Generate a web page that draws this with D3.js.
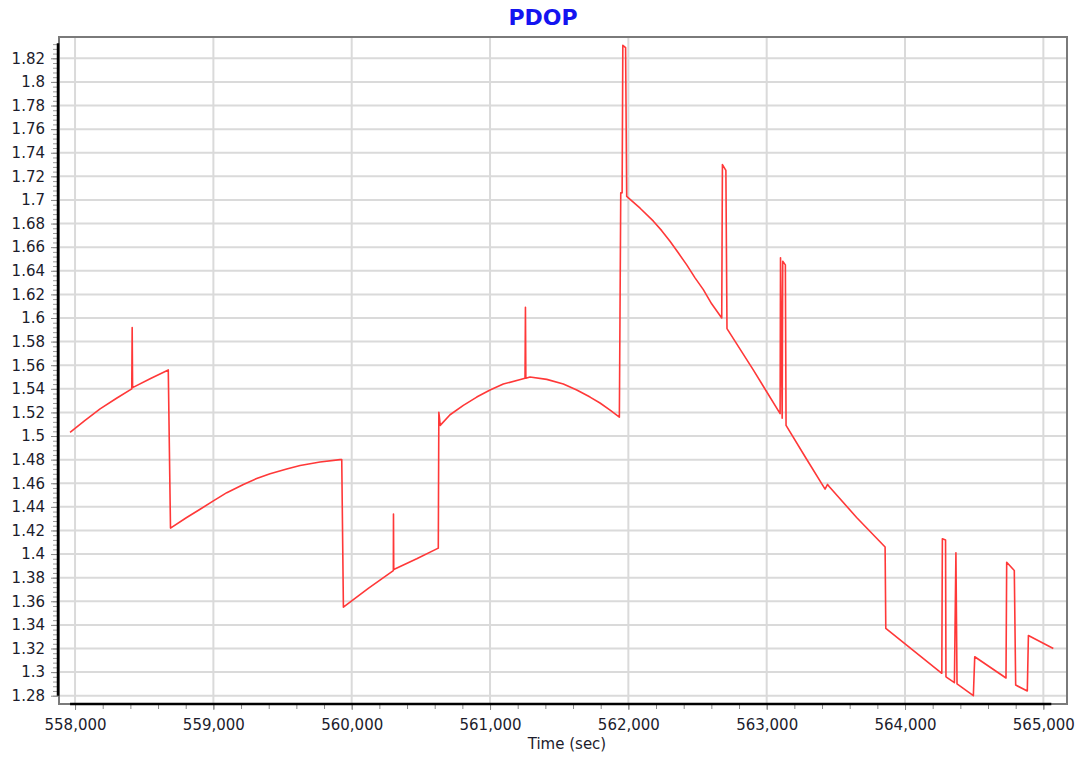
<!DOCTYPE html>
<html>
<head>
<meta charset="utf-8">
<script src="https://cdn.jsdelivr.net/npm/d3@7/dist/d3.min.js"></script>
<style>
  html, body { margin: 0; padding: 0; background: #ffffff; }
  svg { display: block; font-family: "DejaVu Sans", Verdana, sans-serif; }
</style>
</head>
<body>
<svg id="chart" width="1085" height="759"></svg>
<script>
// ---- data ----
const timeSec = [
  557964, 558070, 558181, 558300, 558410, 558413, 558416, 558550, 558674, 558690,
  558807, 558904, 559000, 559097, 559217, 559313, 559410, 559530, 559627, 559771,
  559916, 559928, 559940, 560120, 560301, 560302, 560304, 560470, 560626, 560630,
  560640, 560711, 560807, 560904, 561000, 561096, 561253, 561256, 561259, 561289,
  561410, 561530, 561627, 561723, 561795, 561868, 561935, 561945, 561955, 561960,
  561980, 561988, 562085, 562181, 562241, 562301, 562362, 562422, 562482, 562542,
  562602, 562675, 562680, 562705, 562713, 562903, 563097, 563100, 563112, 563116,
  563135, 563140, 563280, 563422, 563440, 563453, 563650, 563856, 563861, 564266,
  564270, 564293, 564296, 564357, 564368, 564376, 564494, 564504, 564730, 564735,
  564790, 564800, 564884, 564892, 565072
];
const pdop = [
  1.503, 1.513, 1.523, 1.532, 1.540, 1.592, 1.541, 1.549, 1.556, 1.422,
  1.431, 1.438, 1.445, 1.452, 1.459, 1.464, 1.468, 1.472, 1.475, 1.478,
  1.480, 1.480, 1.355, 1.371, 1.386, 1.434, 1.387, 1.396, 1.405, 1.520,
  1.509, 1.518, 1.526, 1.533, 1.539, 1.544, 1.549, 1.609, 1.549, 1.550,
  1.548, 1.544, 1.539, 1.533, 1.528, 1.522, 1.516, 1.706, 1.706, 1.831,
  1.829, 1.703, 1.693, 1.682, 1.674, 1.665, 1.655, 1.645, 1.634, 1.624,
  1.612, 1.600, 1.730, 1.725, 1.591, 1.556, 1.519, 1.651, 1.515, 1.648,
  1.645, 1.509, 1.482, 1.455, 1.459, 1.457, 1.431, 1.406, 1.337, 1.299,
  1.413, 1.412, 1.296, 1.291, 1.401, 1.290, 1.280, 1.313, 1.295, 1.393,
  1.386, 1.289, 1.284, 1.331, 1.320
];
const xTickValues = [558000, 559000, 560000, 561000, 562000, 563000, 564000, 565000];
const xTickLabels = ["558,000", "559,000", "560,000", "561,000", "562,000", "563,000", "564,000", "565,000"];
const yTickValues = [1.28, 1.3, 1.32, 1.34, 1.36, 1.38, 1.4, 1.42, 1.44, 1.46, 1.48, 1.5, 1.52, 1.54,
  1.56, 1.58, 1.6, 1.62, 1.64, 1.66, 1.68, 1.7, 1.72, 1.74, 1.76, 1.78, 1.8, 1.82];
const yTickLabels = ["1.28", "1.3", "1.32", "1.34", "1.36", "1.38", "1.4", "1.42", "1.44", "1.46", "1.48", "1.5", "1.52", "1.54",
  "1.56", "1.58", "1.6", "1.62", "1.64", "1.66", "1.68", "1.7", "1.72", "1.74", "1.76", "1.78", "1.8", "1.82"];
const chartTitle = "PDOP";
const xAxisTitle = "Time (sec)";

// ---- layout ----
const svg = d3.select("#chart");
const plot = { left: 59, top: 37, right: 1067, bottom: 704 };

const x = d3.scaleLinear().domain([557884, 565171]).range([plot.left, plot.right]);
const y = d3.scaleLinear().domain([1.27297, 1.83805]).range([plot.bottom, plot.top]);

// title
svg.append("text")
  .attr("x", 543).attr("y", 25)
  .attr("text-anchor", "middle")
  .style("font-weight", "bold").style("font-size", "22px")
  .attr("fill", "#1414f0")
  .text(chartTitle);

// gridlines
const grid = svg.append("g");
grid.selectAll("line.h").data(yTickValues).join("line")
  .attr("x1", plot.left).attr("x2", plot.right)
  .attr("y1", d => y(d)).attr("y2", d => y(d))
  .attr("stroke", "#dadada").attr("stroke-width", 2);
grid.selectAll("line.v").data(xTickValues).join("line")
  .attr("y1", plot.top).attr("y2", plot.bottom)
  .attr("x1", d => x(d)).attr("x2", d => x(d))
  .attr("stroke", "#dadada").attr("stroke-width", 2);

// frame
svg.append("rect")
  .attr("x", plot.left).attr("y", plot.top)
  .attr("width", plot.right - plot.left).attr("height", plot.bottom - plot.top)
  .attr("fill", "none").attr("stroke", "#7a7a7a").attr("stroke-width", 2);

// data line
const lineStraight = d3.line().x((d, i) => x(timeSec[i])).y(d => y(d));
svg.append("path")
  .datum(pdop)
  .attr("d", lineStraight)
  .attr("fill", "none")
  .attr("stroke", "#ff3838")
  .attr("stroke-width", 1.6)
  .attr("stroke-linejoin", "round");

// y axis (minor + major ticks, labels)
const yMinor = d3.range(1.28, 1.8321, 0.004);
const yAxisG = svg.append("g").attr("transform", `translate(${plot.left - 1},0)`);
yAxisG.call(d3.axisLeft(y).tickValues(yMinor).tickSize(5).tickFormat(""))
  .call(g => g.select(".domain").remove())
  .call(g => g.selectAll(".tick line").attr("stroke", "#9a9a9a").attr("stroke-width", 1));
const yMajorG = svg.append("g").attr("transform", `translate(${plot.left - 1},0)`);
yMajorG.call(d3.axisLeft(y).tickValues(yTickValues).tickSize(7).tickPadding(6)
    .tickFormat((d, i) => yTickLabels[i]))
  .call(g => g.select(".domain").remove())
  .call(g => g.selectAll(".tick line").attr("stroke", "#8a8a8a").attr("stroke-width", 1))
  .call(g => g.selectAll(".tick text")
    .attr("fill", "#1c1c2c").style("font-size", "15px")
    .style("font-family", "'DejaVu Sans', Verdana, sans-serif"));
// data-extent black y axis line
svg.append("line")
  .attr("x1", plot.left - 1).attr("x2", plot.left - 1)
  .attr("y1", y(d3.max(pdop)) - 2).attr("y2", y(d3.min(pdop)))
  .attr("stroke", "#000").attr("stroke-width", 2.5);

// x axis
const xMinor = d3.range(558000, 565001, 200);
const xAxisG = svg.append("g").attr("transform", `translate(0,${plot.bottom})`);
xAxisG.call(d3.axisBottom(x).tickValues(xMinor).tickSize(5).tickFormat(""))
  .call(g => g.select(".domain").remove())
  .call(g => g.selectAll(".tick line").attr("stroke", "#8a8a8a").attr("stroke-width", 1));
const xMajorG = svg.append("g").attr("transform", `translate(0,${plot.bottom})`);
xMajorG.call(d3.axisBottom(x).tickValues(xTickValues).tickSize(6).tickPadding(9)
    .tickFormat((d, i) => xTickLabels[i]))
  .call(g => g.select(".domain").remove())
  .call(g => g.selectAll(".tick line").attr("stroke", "#8a8a8a").attr("stroke-width", 1))
  .call(g => g.selectAll(".tick text")
    .attr("fill", "#1c1c2c").style("font-size", "15px")
    .style("font-family", "'DejaVu Sans', Verdana, sans-serif"));
svg.append("line")
  .attr("x1", x(d3.min(timeSec))).attr("x2", x(d3.max(timeSec)) - 2)
  .attr("y1", plot.bottom).attr("y2", plot.bottom)
  .attr("stroke", "#000").attr("stroke-width", 2.5);

// x axis title
svg.append("text")
  .attr("x", 567).attr("y", 749)
  .attr("text-anchor", "middle")
  .attr("fill", "#1c1c2c")
  .style("font-size", "15px")
  .text(xAxisTitle);
</script>
</body>
</html>
